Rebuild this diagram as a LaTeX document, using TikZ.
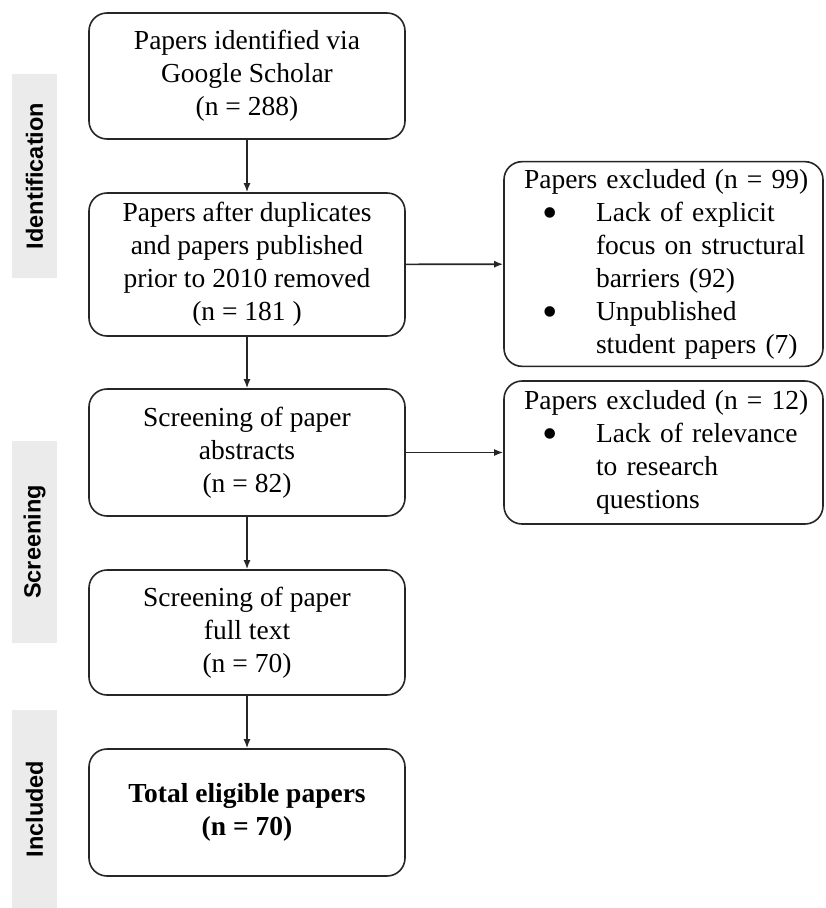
\documentclass[tikz,border=0pt]{standalone}
\usepackage{fontspec}
\setmainfont{Liberation Serif}
\setsansfont{Liberation Sans}
\usetikzlibrary{graphs,arrows.meta}
\newcommand{\exclitem}[1]{\hspace*{18pt}\makebox[54pt][l]{\raisebox{-6pt}{\fontsize{44}{33}\selectfont\textbullet}}#1}
\newcommand{\exclcont}[1]{\hspace*{72pt}#1}
\tikzset{
    stage/.style ={
        shape=rectangle,
        rounded corners=18pt,
        draw=black!85,
        line width=1.6pt,
        align=center,
        font=\fontsize{27.5}{33}\selectfont,
        minimum width=316pt
    },
    excl/.style ={
        shape=rectangle,
        rounded corners=18pt,
        draw=black!85,
        line width=1.6pt,
        align=left,
        text width=279pt,
        inner xsep=20pt,
        font=\fontsize{27.5}{33}\selectfont
    },
    phase/.style ={
        shape=rectangle,
        fill=black!8,
        rotate=90,
        minimum height=45pt,
        font=\sffamily\bfseries\fontsize{23.5}{28}\selectfont
    }
}

\begin{document}
\begin{tikzpicture}[x=1pt, y=-1pt, >={Latex[length=9pt,width=7pt]}]
    \useasboundingbox (0,0) rectangle (825,908);
    \node[phase, minimum width=204pt] (ident) at (34.5,176) {Identification};
    \node[phase, minimum width=202pt] (screen) at (34.5,542) {Screening};
    \node[phase, minimum width=198pt] (incl) at (34.5,809) {Included};
    \node[stage, minimum height=126pt] (found) at (247,76) {Papers identified via\\Google Scholar\\(n = 288)};
    \node[stage, minimum height=143pt] (dedup) at (247,264.5) {Papers after duplicates\\and papers published\\prior to 2010 removed\\(n = 181 )};
    \node[stage, minimum height=127pt] (abstr) at (247,452.5) {Screening of paper\\abstracts\\(n = 82)};
    \node[stage, minimum height=125pt] (fulltext) at (247,632.5) {Screening of paper\\full text\\(n = 70)};
    \node[stage, minimum height=127pt] (total) at (247,812.5) {\textbf{Total eligible papers}\\\textbf{(n = 70)}};
    \node[excl, minimum height=204pt] (exclA) at (663.5,264) {\begin{tabular}{@{}l@{}}
        Papers excluded (n = 99)\\
        \exclitem{Lack of explicit}\\
        \exclcont{focus on structural}\\
        \exclcont{barriers (92)}\\
        \exclitem{Unpublished}\\
        \exclcont{student papers (7)}
    \end{tabular}};
    \node[excl, minimum height=143pt] (exclB) at (663.5,452.5) {\begin{tabular}{@{}l@{}}
        Papers excluded (n = 12)\\
        \exclitem{Lack of relevance}\\
        \exclcont{to research}\\
        \exclcont{questions}
    \end{tabular}};
    \graph[edges={line width=1.6pt, draw=black!85}]{
        (found)->(dedup)->(abstr)->(fulltext)->(total);
        (dedup)->(exclA);
        (abstr)->(exclB);
    };
\end{tikzpicture}
\end{document}
